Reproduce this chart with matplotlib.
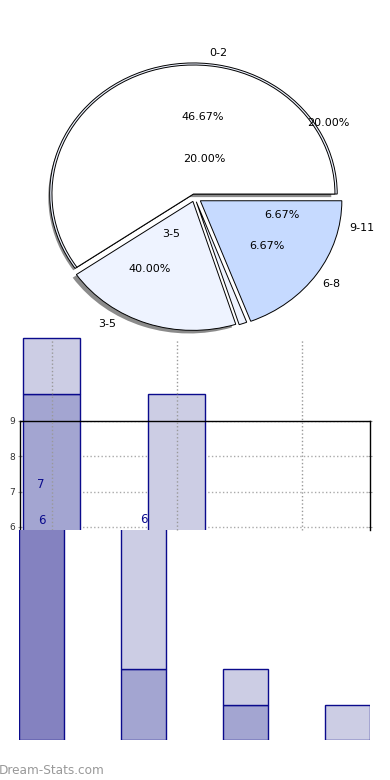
import matplotlib
matplotlib.use("Agg")
import matplotlib.pyplot as plt
from matplotlib.patches import Rectangle

W, H = 390, 780

# ---------------- data ----------------
slice_values = [59.6, 20.3, 0.9, 19.2]
slice_colors = ['#FFFFFF', '#EEF3FF', '#EEF3FF', '#C6DAFF']
slice_explode = [0.025, 0.035, 0.038, 0.05]

pie_texts = ['0-2', '20.00%', '46.67%', '20.00%', '3-5', '40.00%', '3-5',
             '6.67%', '6.67%', '9-11', '6-8']

upper_cats = [0, 1]
upper_dark = [9.76, 0]
upper_light = [1.59, 9.76]
upper_ticks = [6, 7, 8, 9]
upper_grid_x = [0, 1, 2]
upper_labels = ['7', '6', '6']

lower_cats = [0, 1, 2, 3]
lower_dark = [6, 0, 0, 0]
lower_mid = [0, 2, 1, 0]
lower_light = [0, 4, 1, 1]

watermark = 'Dream-Stats.com'

# ---------------- layout ----------------
pie_text_px = [(218, 53), (328, 123), (203, 117), (204, 159), (171, 234),
               (150, 269), (107, 324), (282, 215), (267, 246), (362, 228),
               (331, 284)]
upper_label_pos = [(-0.084, 7.19), (-0.076, 6.17), (0.74, 6.2)]

C_DARK = '#8482C0'
C_MID = '#A3A5D1'
C_LIGHT = '#CCCDE4'
C_EDGE = '#0A0A8C'

fig = plt.figure(figsize=(W / 100, H / 100), dpi=100)


def fax(l, t, r, b):
    return fig.add_axes([l / W, 1 - b / H, (r - l) / W, (b - t) / H])


# ---------------- pie ----------------
axp = fax(0, 30, 390, 345)
sh = axp.pie(slice_values, explode=slice_explode, startangle=0,
             colors=['#5a5a5a'] * len(slice_values), center=(-0.026, -0.024),
             wedgeprops=dict(linewidth=0, alpha=0.7))[0]
for w in sh[2:]:
    w.set_visible(False)
bk = axp.pie(slice_values, explode=slice_explode, startangle=0, radius=1.016,
             colors=['#EEF3FF'] * len(slice_values),
             wedgeprops=dict(edgecolor='black', linewidth=0.7))[0]
for w in bk[1:]:
    w.set_visible(False)
mw = axp.pie(slice_values, explode=slice_explode, startangle=0,
             colors=slice_colors,
             wedgeprops=dict(edgecolor='black', linewidth=0.7))[0]
axp.set_aspect('auto')
axp.set_xlim(-1.3746, 1.3816)
axp.set_ylim(-1.1465, 1.2953)
axp.axis('off')

for t, (x, y) in zip(pie_texts, pie_text_px):
    fig.text(x / W, 1 - y / H, t, ha='center', va='center', fontsize=8,
             color='black')

# ---------------- upper bars ----------------
axu = fax(20, 421, 370, 530)
axu.set_xlim(-0.252, 2.548)
axu.set_ylim(5.915, 9.0)
axu.set_axisbelow(True)
clip = Rectangle((0, 0), 1, 3, transform=axu.transAxes)

bw_u = 0.45
for x, d, l in zip(upper_cats, upper_dark, upper_light):
    bars = []
    if d > 0:
        bars += list(axu.bar(x, d, width=bw_u, color=C_MID, edgecolor=C_EDGE,
                             linewidth=1.0))
    if l > 0:
        bars += list(axu.bar(x, l, bottom=d, width=bw_u, color=C_LIGHT,
                             edgecolor=C_EDGE, linewidth=1.0))
    for b in bars:
        b.set_clip_path(clip)

axu.set_yticks(upper_ticks)
axu.set_yticklabels([str(v) for v in upper_ticks], fontsize=6.5, color='#333333')
axu.set_xticks(upper_grid_x)
axu.set_xticklabels([])
axu.tick_params(axis='x', length=0)
axu.tick_params(axis='y', length=2.5, color='#999999', direction='inout',
                pad=2.5, right=True)
axu.yaxis.grid(True, linestyle=':', color='#aaaaaa', linewidth=1.0)
for gx in upper_grid_x:
    axu.axvline(gx, ymin=0, ymax=1.743, clip_on=False, linestyle=':',
                color='#999999', linewidth=1.0, zorder=5)
for s in ['left', 'top', 'right']:
    axu.spines[s].set_color('black')
    axu.spines[s].set_linewidth(1.0)
axu.spines['bottom'].set_visible(False)
for t, (x, y) in zip(upper_labels, upper_label_pos):
    axu.text(x, y, t, ha='center', va='center', fontsize=8.5, color=C_EDGE,
             zorder=6)

# ---------------- lower bars ----------------
axl = fax(19, 530, 370, 740)
axl.set_xlim(-0.2206, 3.2206)
axl.set_ylim(0, 5.95)
bw_l = 0.44
for x, d, m, l in zip(lower_cats, lower_dark, lower_mid, lower_light):
    if d > 0:
        axl.bar(x, d, width=bw_l, color=C_DARK, edgecolor=C_EDGE, linewidth=1.0)
    if m > 0:
        axl.bar(x, m, bottom=d, width=bw_l, color=C_MID, edgecolor=C_EDGE,
                linewidth=1.0)
    if l > 0:
        axl.bar(x, l, bottom=d + m, width=bw_l, color=C_LIGHT, edgecolor=C_EDGE,
                linewidth=1.0)
axl.axis('off')

fig.text(-1 / W, 1 - 770 / H, watermark, ha='left', va='center', fontsize=8.7,
         color='#999999')

fig.savefig('out.png', dpi=100)
